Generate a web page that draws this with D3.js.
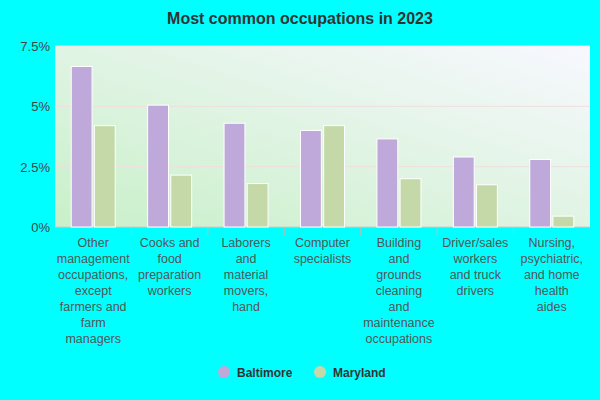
<!DOCTYPE html>
<html><head><meta charset="utf-8">
<script src="https://cdn.jsdelivr.net/npm/d3@7"></script>
<style>body{margin:0;background:#00ffff}text{font-family:"Liberation Sans",Arial,sans-serif}</style>
</head><body><svg id="c" width="600" height="400"></svg>
<script>
var categories = [
  ['Other','management','occupations,','except','farmers and','farm','managers'],
  ['Cooks and','food','preparation','workers'],
  ['Laborers','and','material','movers,','hand'],
  ['Computer','specialists'],
  ['Building','and','grounds','cleaning','and','maintenance','occupations'],
  ['Driver/sales','workers','and truck','drivers'],
  ['Nursing,','psychiatric,','and home','health','aides']
]
var baltimore = [6.65, 5.05, 4.3, 4.0, 3.65, 2.9, 2.8]
var maryland = [4.2, 2.15, 1.8, 4.2, 2.0, 1.75, 0.45]
var ticks = [0, 2.5, 5, 7.5]
var series = ['Baltimore', 'Maryland']
var colors = ['#bea9da', '#c4d9a7']

var svg = d3.select('#c')
  , m = {l: 55, r: 590, t: 46, b: 227}

var defs = svg.append('defs')
var g = defs.append('linearGradient').attr('id', 'bg')
  .attr('x1', '0').attr('y1', '1').attr('x2', '1').attr('y2', '0')
g.append('stop').attr('offset', '0').attr('stop-color', '#c8f0c8')
g.append('stop').attr('offset', '1').attr('stop-color', '#f8f8ff')

svg.append('rect').attr('x', m.l).attr('y', m.t).attr('width', m.r - m.l).attr('height', m.b - m.t)
  .attr('fill', 'url(#bg)')

var x = d3.scaleBand().domain(d3.range(categories.length)).range([m.l, m.r])
  , y = d3.scaleLinear().domain([0, 7.5]).range([m.b, m.t])
  , xs = d3.scaleBand().domain([0, 1]).range([0, x.bandwidth()]).paddingInner(0.1).paddingOuter(0.7)

ticks.forEach(function (t) {
  svg.append('line').attr('x1', m.l).attr('x2', m.r).attr('y1', y(t)).attr('y2', y(t))
    .attr('stroke', t === 0 ? '#ccc' : '#f0dede').attr('stroke-width', 1)
  svg.append('text').attr('x', m.l - 5).attr('y', y(t) + 5).attr('text-anchor', 'end')
    .attr('font-size', 13).attr('fill', '#444').text(t + '%')
})

;[baltimore, maryland].forEach(function (vals, s) {
  svg.selectAll(null).data(vals).enter().append('rect')
    .attr('x', function (d, i) { return x(i) + xs(s) })
    .attr('y', function (d) { return y(d) })
    .attr('width', xs.bandwidth())
    .attr('height', function (d) { return y(0) - y(d) })
    .attr('fill', colors[s]).attr('stroke', '#fff').attr('stroke-width', 1)
})

categories.forEach(function (lines, i) {
  if (i > 0) svg.append('line').attr('x1', x(i)).attr('x2', x(i)).attr('y1', m.b).attr('y2', m.b + 8).attr('stroke', '#bbb')
  var t = svg.append('text').attr('text-anchor', 'middle').attr('font-size', 12.5).attr('fill', '#555')
  lines.forEach(function (l, k) {
    t.append('tspan').attr('x', x(i) + x.bandwidth() / 2).attr('y', 247 + k * 16).text(l)
  })
})

svg.append('text').attr('x', 300).attr('y', 24).attr('text-anchor', 'middle')
  .attr('font-size', 16).attr('font-weight', 'bold').attr('fill', '#333').text('Most common occupations in 2023')

var lx = [224, 320]
series.forEach(function (s, i) {
  svg.append('circle').attr('cx', lx[i]).attr('cy', 372).attr('r', 6).attr('fill', colors[i])
  svg.append('text').attr('x', lx[i] + 13).attr('y', 377).attr('font-size', 12).attr('font-weight', 'bold')
    .attr('fill', '#333').text(s)
})
</script></body></html>
